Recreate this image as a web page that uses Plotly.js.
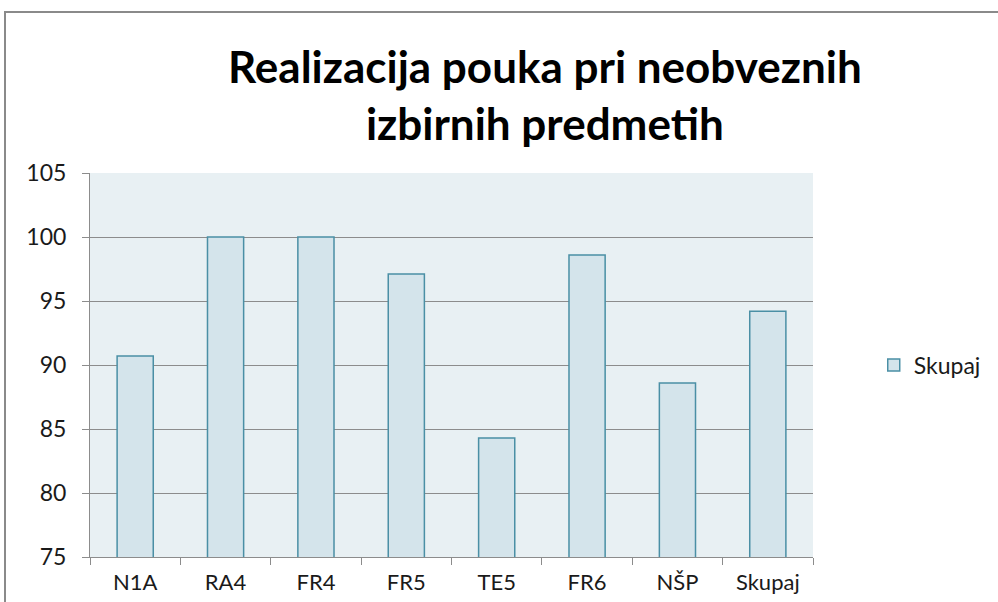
<!DOCTYPE html>
<html>
<head>
<meta charset="utf-8">
<script src="https://cdn.plot.ly/plotly-3.0.1.min.js"></script>
<style>
  html, body { margin: 0; padding: 0; background: #fff; }
  #wrap { position: relative; width: 998px; height: 602px; overflow: hidden; }
  #chart { position: absolute; left: 0; top: 0; width: 998px; height: 602px; }
  #frame { position: absolute; left: 4px; top: 11px; width: 1100px; height: 700px;
           border: 2px solid #8a8a8a; pointer-events: none; }
</style>
</head>
<body>
<div id="wrap">
  <div id="chart"></div>
  <div id="frame"></div>
</div>
<script>
const categories = ["N1A", "RA4", "FR4", "FR5", "TE5", "FR6", "NŠP", "Skupaj"];
const values = [90.7, 100, 100, 97.1, 84.3, 98.6, 88.6, 94.2];
const seriesName = "Skupaj";
const titleText = "Realizacija pouka pri neobveznih<br>izbirnih predmetih";
const yTicks = [75, 80, 85, 90, 95, 100, 105];

const font = "Lato, 'Liberation Sans', sans-serif";

const trace = {
  type: "bar",
  x: categories,
  y: values,
  name: seriesName,
  showlegend: true,
  marker: { color: "#d4e4eb", line: { color: "#4a8fa5", width: 1.5 } },
  hoverinfo: "x+y"
};

const layout = {
  width: 998, height: 602,
  margin: { l: 90, r: 182, t: 173, b: 45, pad: 0 },
  paper_bgcolor: "rgba(0,0,0,0)",
  plot_bgcolor: "#e8f0f3",
  bargap: 0.6,
  title: {
    text: titleText,
    font: { family: font, size: 44, color: "#000", weight: "bold" },
    xref: "container", x: 0.546, xanchor: "center",
    yref: "container", y: 0.862, yanchor: "top"
  },
  xaxis: {
    type: "category",
    showline: true, linecolor: "#8c8c8c", linewidth: 1,
    ticks: "outside", ticklen: 7, tickcolor: "#8c8c8c", tickwidth: 1,
    tickson: "boundaries",
    showgrid: false,
    tickfont: { family: font, size: 22, color: "#1a1a1a" },
    ticklabelstandoff: 6
  },
  yaxis: {
    range: [75, 105],
    tickvals: yTicks,
    ticktext: yTicks.map(String),
    showline: true, linecolor: "#8c8c8c", linewidth: 1,
    ticks: "outside", ticklen: 7, tickcolor: "#8c8c8c", tickwidth: 1,
    showgrid: true, gridcolor: "#8c8c8c", gridwidth: 1,
    zeroline: false,
    tickfont: { family: font, size: 23, color: "#1a1a1a" },
    ticklabelstandoff: 11
  },
  legend: {
    x: 1.084, xanchor: "left", y: 0.5, yanchor: "middle",
    font: { family: font, size: 23, color: "#1a1a1a" },
    bgcolor: "rgba(0,0,0,0)",
    itemwidth: 30
  },
  showlegend: true
};

Plotly.newPlot("chart", [trace], layout, { displayModeBar: false, staticPlot: true });
</script>
</body>
</html>
